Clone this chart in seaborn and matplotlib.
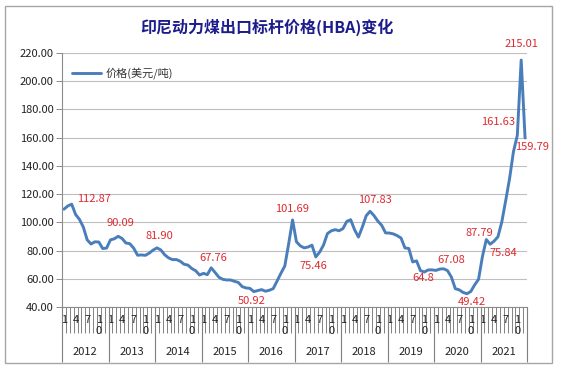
import numpy as np
import pandas as pd
import seaborn as sns
import matplotlib.pyplot as plt
from matplotlib.patches import Rectangle

# HBA monthly price, Jan 2012 - Dec 2021 (USD/t)
years = [2012, 2013, 2014, 2015, 2016, 2017, 2018, 2019, 2020, 2021]
p2012 = [109.29, 111.58, 112.87, 105.61, 102.12, 96.65, 87.56, 84.65, 86.21, 86.04, 81.44, 81.75]
p2013 = [87.55, 88.35, 90.09, 88.56, 85.33, 84.87, 81.69, 76.70, 76.89, 76.61, 78.13, 80.31]
p2014 = [81.90, 80.44, 77.01, 74.81, 73.60, 73.64, 72.45, 70.29, 69.69, 67.26, 65.70, 62.65]
p2015 = [63.84, 62.92, 67.76, 64.48, 61.08, 59.59, 59.16, 59.14, 58.21, 57.39, 54.43, 53.51]
p2016 = [53.20, 50.92, 51.62, 52.32, 51.20, 51.87, 53.00, 58.37, 63.93, 69.07, 84.89, 101.69]
p2017 = [86.23, 83.32, 81.90, 82.51, 83.81, 75.46, 78.95, 83.97, 92.03, 93.99, 94.80, 94.04]
p2018 = [95.54, 100.69, 101.86, 94.75, 89.53, 96.61, 104.65, 107.83, 104.81, 100.89, 97.90, 92.51]
p2019 = [92.41, 91.80, 90.57, 88.85, 81.86, 81.48, 71.92, 72.67, 65.79, 64.80, 66.27, 66.30]
p2020 = [65.93, 66.89, 67.08, 65.77, 61.11, 52.98, 52.16, 50.34, 49.42, 51.00, 55.71, 59.65]
p2021 = [75.84, 87.79, 84.47, 86.68, 89.74, 100.33, 115.35, 130.99, 150.03, 161.63, 215.01, 159.79]
prices = p2012 + p2013 + p2014 + p2015 + p2016 + p2017 + p2018 + p2019 + p2020 + p2021

# labelled points (index into prices) and their texts
label_idx = [2, 14, 24, 38, 49, 59, 65, 79, 93, 98, 104, 109, 108, 117, 118, 119]
label_txt = ['112.87', '90.09', '81.90', '67.76', '50.92', '101.69', '75.46', '107.83',
             '64.8', '67.08', '49.42', '87.79', '75.84', '161.63', '215.01', '159.79']
# offsets of the label centre from the point, pixels (right, up)
label_off = [(22, 5), (2, 13), (2, 12), (2, 10), (-2, -9), (0, 11), (-2, -9), (5, 11),
             (-1, -6), (8, 9), (5, -8), (-7, 7), (21, 3), (-19, 13), (0, 16), (7, -9)]

month_ticks = ['1', '4', '7', '1\n0']

sns.set_style('white')
plt.rcParams['font.family'] = ['Noto Sans CJK SC', 'DejaVu Sans']

fig = plt.figure(figsize=(5.64, 3.73), dpi=100)
ax = fig.add_axes([62/564, 66/373, 465/564, 254/373])

df = pd.DataFrame({'idx': np.arange(len(prices)), 'price': prices})
sns.lineplot(data=df, x='idx', y='price', ax=ax, color='#4A7EBB', lw=2.1,
             label='价格(美元/吨)')

for i, t, (dx, dy) in zip(label_idx, label_txt, label_off):
    ax.annotate(t, (i, prices[i]), xytext=(dx, dy), textcoords='offset pixels',
                ha='center', va='center', color='#DD2A30', fontsize=8)

n = len(prices)
ax.set_xlim(-0.5, n - 0.5)
ax.set_ylim(40, 220)
ax.set_yticks(np.arange(40, 221, 20))
ax.set_yticklabels([f'{v:.2f}' for v in np.arange(40, 221, 20)])
ax.grid(axis='y', color='#BFBFBF', lw=0.8)
ax.set_axisbelow(True)

# month boundaries as major ticks, month labels as minor ticks
ax.set_xticks(np.arange(-0.5, n, 1))
ax.set_xticklabels([])
lab_pos = [k * 12 + m for k in range(len(years)) for m in (0, 3, 6, 9)]
ax.set_xticks(lab_pos, minor=True)
ax.set_xticklabels(month_ticks * len(years), minor=True, fontsize=8,
                   va='top', linespacing=1.05)
ax.tick_params(axis='x', which='major', bottom=True, length=19, width=0.6,
               color='#6E6E6E', direction='out')
ax.tick_params(axis='x', which='minor', bottom=True, length=0, pad=6, colors='#222222')
ax.tick_params(axis='y', length=4, width=0.7, color='#8C8C8C', labelsize=8,
               labelcolor='#222222', pad=2, left=True)

# year separators and year labels
xt = ax.get_xaxis_transform()
ax.vlines(np.arange(-0.5, n, 12), 0, -55/254, transform=xt, clip_on=False,
          color='#7F7F7F', lw=0.8)
for k, yr in enumerate(years):
    ax.text(k * 12 + 5.5, -45/254, str(yr), transform=xt, ha='center', va='center',
            fontsize=8, color='#222222')

for s in ['top', 'right']:
    ax.spines[s].set_visible(False)
for s in ['left', 'bottom']:
    ax.spines[s].set_color('#8C8C8C')
    ax.spines[s].set_linewidth(0.8)
ax.set_xlabel('')
ax.set_ylabel('')

ax.legend(loc='center left', bbox_to_anchor=(0.022, 0.921), frameon=False,
          fontsize=8, handlelength=2.6, handletextpad=0.4, borderpad=0,
          borderaxespad=0, labelcolor='#333333')

fig.text(267/564, 1 - 27/373, '印尼动力煤出口标杆价格(HBA)变化', ha='center', va='center',
         fontsize=11.5, fontweight='bold', color='#1C1C8C')

fig.add_artist(Rectangle((5/564, 10/373), 547/564, 357/373, transform=fig.transFigure,
                         fill=False, edgecolor='#A6A6A6', lw=1))

fig.savefig('out.png', dpi=100)
